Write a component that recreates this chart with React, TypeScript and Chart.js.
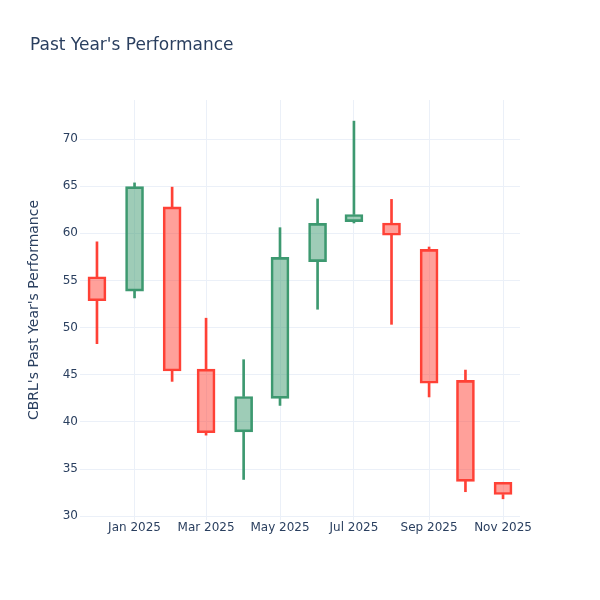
import React, { useEffect, useRef } from "react";
import { Chart, registerables } from "chart.js";

Chart.register(...registerables);

// Monthly candles (month start dates)
const dates = [
  "2024-12-01", "2025-01-01", "2025-02-01", "2025-03-01", "2025-04-01", "2025-05-01",
  "2025-06-01", "2025-07-01", "2025-08-01", "2025-09-01", "2025-10-01", "2025-11-01",
];
const opens = [55.4, 53.87, 62.8, 45.6, 38.95, 42.5, 57.0, 61.25, 61.1, 58.3, 44.4, 33.6];
const highs = [59.1, 65.35, 64.9, 51.0, 46.6, 60.6, 63.65, 71.9, 63.6, 58.55, 45.5, 33.6];
const lows = [48.3, 53.15, 44.3, 38.6, 33.9, 41.75, 51.95, 61.1, 50.35, 42.65, 32.6, 31.85];
const closes = [52.85, 64.95, 45.4, 38.85, 42.7, 57.45, 61.05, 62.0, 59.8, 44.1, 33.7, 32.3];

const xTickDates = ["2025-01-01", "2025-03-01", "2025-05-01", "2025-07-01", "2025-09-01", "2025-11-01"];
const xTickLabels = ["Jan 2025", "Mar 2025", "May 2025", "Jul 2025", "Sep 2025", "Nov 2025"];
const yTickValues = [30, 35, 40, 45, 50, 55, 60, 65, 70];

const titleText = "Past Year's Performance";
const yAxisTitle = "CBRL's Past Year's Performance";

const X_MIN_DATE = "2024-11-17";
const X_MAX_DATE = "2025-11-15";
const Y_MIN = 29.6;
const Y_MAX = 74.14;

const EPOCH = Date.parse("2025-01-01T00:00:00Z");
const dayX = (d: string) => (Date.parse(d + "T00:00:00Z") - EPOCH) / 86400000;

const UP_LINE = "#3D9970";
const UP_FILL = "rgba(61,153,112,0.5)";
const DOWN_LINE = "#FF4136";
const DOWN_FILL = "rgba(255,65,54,0.5)";
const TEXT = "#2a3f5f";
const GRID = "#EBF0F8";
const FONT = "'DejaVu Sans', Verdana, sans-serif";

export default function App() {
  const ref = useRef<HTMLCanvasElement | null>(null);

  useEffect(() => {
    if (!ref.current) return;
    const up = opens.map((o, i) => closes[i] >= o);
    const lineColors = up.map((u) => (u ? UP_LINE : DOWN_LINE));
    const fillColors = up.map((u) => (u ? UP_FILL : DOWN_FILL));

    const bodies = dates.map((d, i) => ({ x: dayX(d), y: [opens[i], closes[i]] }));
    const upperWicks = dates.map((d, i) => ({ x: dayX(d), y: [Math.max(opens[i], closes[i]), highs[i]] }));
    const lowerWicks = dates.map((d, i) => ({ x: dayX(d), y: [lows[i], Math.min(opens[i], closes[i])] }));

    const titlePlugin = {
      id: "plotTitle",
      afterDraw(chart: any) {
        const ctx = chart.ctx;
        ctx.save();
        ctx.font = `17px ${FONT}`;
        ctx.fillStyle = TEXT;
        ctx.textAlign = "left";
        ctx.textBaseline = "alphabetic";
        ctx.fillText(titleText, 30, 50);
        ctx.restore();
      },
    };

    const chart = new Chart(ref.current, {
      type: "bar",
      data: {
        datasets: [
          {
            label: "upper",
            data: upperWicks as any,
            backgroundColor: lineColors,
            borderWidth: 0,
            barThickness: 2,
            grouped: false,
            order: 2,
          } as any,
          {
            label: "lower",
            data: lowerWicks as any,
            backgroundColor: lineColors,
            borderWidth: 0,
            barThickness: 2,
            grouped: false,
            order: 2,
          } as any,
          {
            label: "body",
            data: bodies as any,
            backgroundColor: fillColors,
            borderColor: lineColors,
            borderWidth: 2,
            borderSkipped: false,
            barThickness: 18,
            grouped: false,
            order: 1,
          } as any,
        ],
      },
      options: {
        animation: false,
        responsive: false,
        maintainAspectRatio: false,
        layout: { padding: { left: 0, right: 80, top: 100, bottom: 0 } },
        plugins: {
          legend: { display: false },
          tooltip: { enabled: false },
          title: { display: false },
        },
        scales: {
          x: {
            type: "linear",
            min: dayX(X_MIN_DATE),
            max: dayX(X_MAX_DATE),
            offset: false,
            grid: { color: GRID, lineWidth: 1, drawTicks: false, offset: false },
            border: { display: false },
            ticks: {
              color: TEXT,
              font: { family: FONT, size: 12 },
              padding: 1,
              maxRotation: 0,
              autoSkip: false,
              callback: (v: any) => {
                const idx = xTickDates.findIndex((d) => Math.abs(dayX(d) - Number(v)) < 0.01);
                return idx >= 0 ? xTickLabels[idx] : "";
              },
            },
            afterBuildTicks: (scale: any) => {
              scale.ticks = xTickDates.map((d) => ({ value: dayX(d) }));
            },
            afterFit: (scale: any) => {
              scale.height = 80;
            },
          },
          y: {
            type: "linear",
            min: Y_MIN,
            max: Y_MAX,
            grid: { color: GRID, lineWidth: 1, drawTicks: false },
            border: { display: false },
            ticks: {
              color: TEXT,
              font: { family: FONT, size: 12 },
              padding: 2,
            },
            afterBuildTicks: (scale: any) => {
              scale.ticks = yTickValues.map((v) => ({ value: v }));
            },
            afterFit: (scale: any) => {
              scale.width = 80;
            },
            title: {
              display: true,
              text: yAxisTitle,
              color: TEXT,
              font: { family: FONT, size: 14 },
              padding: { top: 26, bottom: 0 },
            },
          },
        },
      },
      plugins: [titlePlugin],
    });
    return () => chart.destroy();
  }, []);

  return (
    <div style={{ position: "absolute", left: 0, top: 0, width: 600, height: 600, background: "#fff" }}>
      <canvas ref={ref} width={600} height={600} style={{ width: 600, height: 600 }} />
    </div>
  );
}
